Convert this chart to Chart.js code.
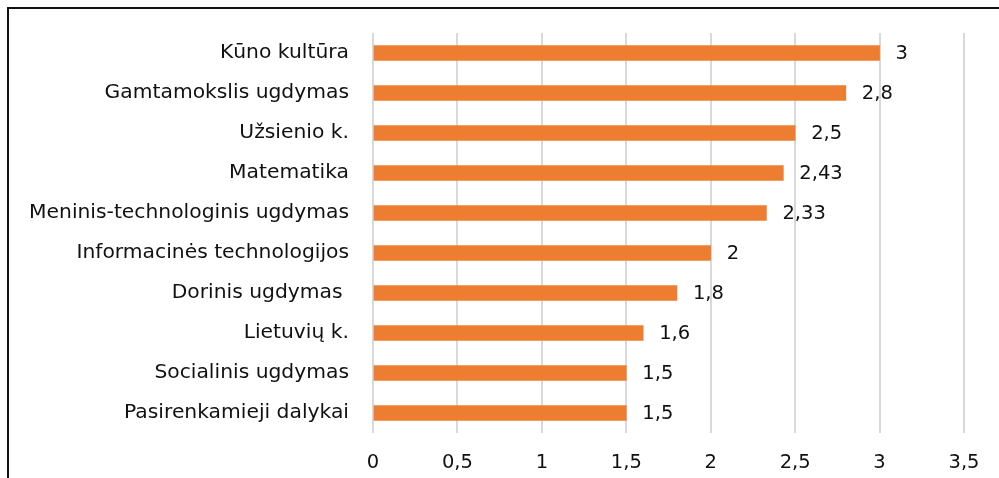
<!DOCTYPE html>
<html>
<head>
<meta charset="utf-8">
<script src="https://cdn.jsdelivr.net/npm/chart.js@4"></script>
<style>
  html, body { margin: 0; padding: 0; background: #fff; }
  #wrap { position: relative; width: 999px; height: 478px; overflow: hidden; }
  #frame { position: absolute; left: 7px; top: 7px; width: 1100px; height: 600px;
           border-left: 2px solid #111; border-top: 2px solid #111; pointer-events: none; }
  canvas { position: absolute; left: 0; top: 0; }
</style>
</head>
<body>
<div id="wrap">
  <canvas id="c" width="999" height="478"></canvas>
  <div id="frame"></div>
</div>
<script>
const categories = [
  "Kūno kultūra",
  "Gamtamokslis ugdymas",
  "Užsienio k.",
  "Matematika",
  "Meninis-technologinis ugdymas",
  "Informacinės technologijos",
  "Dorinis ugdymas ",
  "Lietuvių k.",
  "Socialinis ugdymas",
  "Pasirenkamieji dalykai"
];
const values = [3, 2.8, 2.5, 2.43, 2.33, 2, 1.8, 1.6, 1.5, 1.5];
const xTicks = [0, 0.5, 1, 1.5, 2, 2.5, 3, 3.5];

const FONT = "'DejaVu Sans', 'Open Sans', sans-serif";
const TEXT = "#111111";
const fmt = v => String(v).replace('.', ',');

const valueLabels = {
  id: 'valueLabels',
  afterDatasetsDraw(chart) {
    const ctx = chart.ctx;
    const meta = chart.getDatasetMeta(0);
    ctx.save();
    ctx.font = "19.5px " + FONT;
    ctx.fillStyle = TEXT;
    ctx.textAlign = 'left';
    ctx.textBaseline = 'middle';
    meta.data.forEach((bar, i) => {
      ctx.fillText(fmt(values[i]), bar.x + 16, bar.y + 1);
    });
    ctx.restore();
  }
};

new Chart(document.getElementById('c'), {
  type: 'bar',
  data: {
    labels: categories,
    datasets: [{
      data: values,
      backgroundColor: '#ED7D31',
      borderWidth: 0,
      barThickness: 15,
      categoryPercentage: 1,
      barPercentage: 1
    }]
  },
  options: {
    indexAxis: 'y',
    responsive: false,
    animation: false,
    devicePixelRatio: 1,
    layout: { padding: { left: 0, right: 35, top: 33, bottom: 0 } },
    plugins: { legend: { display: false }, tooltip: { enabled: false } },
    scales: {
      x: {
        min: 0, max: 3.5,
        afterBuildTicks: s => { s.ticks = xTicks.map(v => ({ value: v })); },
        afterFit: s => { s.height = 45; s.paddingLeft = 0; s.paddingRight = 0; },
        grid: { color: '#D9D9D9', lineWidth: 2, drawTicks: false },
        border: { display: false },
        ticks: {
          padding: 18,
          color: TEXT,
          font: { family: FONT, size: 19.5 },
          callback: v => fmt(v),
          maxRotation: 0
        }
      },
      y: {
        afterFit: s => { s.width = 373; s.paddingTop = 0; s.paddingBottom = 0; },
        grid: { display: false, drawTicks: false },
        border: { display: false },
        ticks: {
          padding: 24,
          color: TEXT,
          font: { family: FONT, size: 20.3 },
          autoSkip: false
        }
      }
    }
  },
  plugins: [valueLabels]
});
</script>
</body>
</html>
